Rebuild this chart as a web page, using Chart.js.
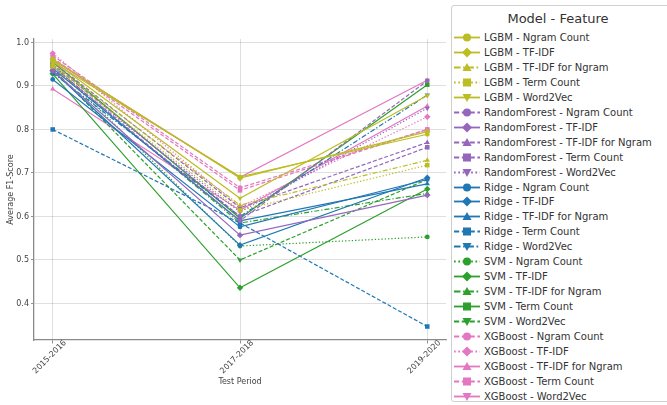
<!DOCTYPE html>
<html>
<head>
<meta charset="utf-8">
<script src="https://cdn.jsdelivr.net/npm/chart.js@4.4.1/dist/chart.umd.min.js"></script>
<style>
  html, body { margin:0; padding:0; background:#fff; overflow:hidden; width:667px; height:405px; }
  #wrap { position:absolute; left:0; top:0; width:450px; height:405px; }
  #legend { position:absolute; left:451px; top:5px; width:240px; height:397px; border:1px solid #d0d0d0; border-radius:3px; box-sizing:border-box; font-family:"DejaVu Sans", sans-serif; color:#333; background:#fff; }
  #legend .title { position:absolute; left:0; top:5px; width:212px; text-align:center; font-size:13px; line-height:16px; }
  #legend .row { position:absolute; left:0; height:15px; line-height:15px; font-size:10px; white-space:nowrap; }
  #legend .row svg { position:absolute; left:1px; top:1px; }
  #legend .row span { position:absolute; left:32px; top:0; }
</style>
</head>
<body>
<div id="wrap"><canvas id="c" width="450" height="405"></canvas></div>
<div id="legend"></div>
<script>
// ---- data ----
const periods = ['2015-2016', '2017-2018', '2019-2020'];
const yTicks = [0.4, 0.5, 0.6, 0.7, 0.8, 0.9, 1.0];
const models = ['LGBM', 'RandomForest', 'Ridge', 'SVM', 'XGBoost'];
const features = ['Ngram Count', 'TF-IDF', 'TF-IDF for Ngram', 'Term Count', 'Word2Vec'];

const lgbmNgramCount    = [0.955, 0.691, 0.789];
const lgbmTfidf         = [0.962, 0.688, 0.795];
const lgbmTfidfNgram    = [0.950, 0.626, 0.729];
const lgbmTermCount     = [0.945, 0.614, 0.718];
const lgbmWord2Vec      = [0.958, 0.642, 0.878];

const rfNgramCount      = [0.945, 0.590, 0.912];
const rfTfidf           = [0.935, 0.557, 0.649];
const rfTfidfNgram      = [0.955, 0.620, 0.770];
const rfTermCount       = [0.950, 0.600, 0.759];
const rfWord2Vec        = [0.940, 0.610, 0.849];

const ridgeNgramCount   = [0.915, 0.576, 0.685];
const ridgeTfidf        = [0.935, 0.534, 0.689];
const ridgeTfidfNgram   = [0.940, 0.590, 0.675];
const ridgeTermCount    = [0.800, 0.585, 0.347];
const ridgeWord2Vec     = [0.930, 0.600, 0.879];

const svmNgramCount     = [0.950, 0.532, 0.553];
const svmTfidf          = [0.928, 0.436, 0.663];
const svmTfidfNgram     = [0.945, 0.585, 0.653];
const svmTermCount      = [0.955, 0.596, 0.903];
const svmWord2Vec       = [0.940, 0.500, 0.685];

const xgbNgramCount     = [0.970, 0.666, 0.800];
const xgbTfidf          = [0.975, 0.622, 0.829];
const xgbTfidfNgram     = [0.893, 0.614, 0.854];
const xgbTermCount      = [0.965, 0.660, 0.800];
const xgbWord2Vec       = [0.960, 0.690, 0.913];

const seriesValues = [
  [lgbmNgramCount, lgbmTfidf, lgbmTfidfNgram, lgbmTermCount, lgbmWord2Vec],
  [rfNgramCount, rfTfidf, rfTfidfNgram, rfTermCount, rfWord2Vec],
  [ridgeNgramCount, ridgeTfidf, ridgeTfidfNgram, ridgeTermCount, ridgeWord2Vec],
  [svmNgramCount, svmTfidf, svmTfidfNgram, svmTermCount, svmWord2Vec],
  [xgbNgramCount, xgbTfidf, xgbTfidfNgram, xgbTermCount, xgbWord2Vec]
];

// ---- styles ----
const modelColors = ['#bcbd22', '#9467bd', '#1f77b4', '#2ca02c', '#e377c2'];
const markers = ['circle', 'diamond', 'triangle', 'square', 'tridown'];
const lineStyles = [
  ['solid', 'solid', 'dashdot', 'dotted', 'solid'],
  ['dashed', 'solid', 'dashed', 'dashed', 'dotted'],
  ['solid', 'solid', 'solid', 'dashed', 'dashdot'],
  ['dotted', 'solid', 'dashdot', 'solid', 'dashed'],
  ['dashed', 'dotted', 'solid', 'dashed', 'solid']
];
const dashMap = { solid: [], dashed: [4, 2], dashdot: [5, 2, 1.3, 2], dotted: [1.3, 2] };
const pointStyleMap = { circle: 'circle', diamond: 'rectRot', triangle: 'triangle', square: 'rect', tridown: 'triangle' };
const pointRadiusMap = { circle: 2.4, diamond: 3.2, triangle: 3, square: 3.2, tridown: 3 };

const datasets = [];
models.forEach((m, mi) => {
  features.forEach((f, fi) => {
    const mk = markers[fi];
    datasets.push({
      label: m + ' - ' + f,
      data: seriesValues[mi][fi].map((v, i) => ({ x: i, y: v })),
      borderColor: modelColors[mi],
      backgroundColor: modelColors[mi],
      borderWidth: 1.2,
      borderDash: dashMap[lineStyles[mi][fi]],
      pointStyle: pointStyleMap[mk],
      pointRotation: mk === 'tridown' ? 180 : 0,
      pointRadius: pointRadiusMap[mk],
      pointBorderWidth: 0,
      tension: 0
    });
  });
});

const FONT = '"DejaVu Sans", sans-serif';

const xLabelPlugin = {
  id: 'xLabels',
  afterDraw(chart) {
    const ctx = chart.ctx;
    const xs = chart.scales.x;
    const base = chart.chartArea.bottom;
    ctx.save();
    ctx.fillStyle = '#444';
    ctx.font = '8px ' + FONT;
    ctx.textAlign = 'center';
    ctx.textBaseline = 'middle';
    periods.forEach((p, i) => {
      const x = xs.getPixelForValue(i);
      ctx.save();
      ctx.translate(x - 3, base + 17);
      ctx.rotate(-Math.PI / 4);
      ctx.fillText(p, 0, 0);
      ctx.restore();
    });
    ctx.restore();
  }
};

new Chart(document.getElementById('c'), {
  type: 'line',
  data: { datasets },
  plugins: [xLabelPlugin],
  options: {
    responsive: false,
    animation: false,
    devicePixelRatio: 1,
    layout: { padding: { left: 0, right: 3, top: 39, bottom: 0 } },
    plugins: { legend: { display: false }, tooltip: { enabled: false } },
    scales: {
      x: {
        type: 'linear',
        min: -0.1, max: 2.1,
        afterBuildTicks(s) { s.ticks = periods.map((p, i) => ({ value: i })); },
        afterFit(s) { s.height = 65; },
        ticks: { display: false },
        grid: { color: 'rgba(0,0,0,0.16)', borderDash: [1.2, 1.8], lineWidth: 0.8,
                tickColor: '#777', tickLength: 3.5, tickWidth: 0.8, tickBorderDash: [] },
        border: { display: true, color: '#8a8a8a', width: 1.3 },
        title: { display: true, text: 'Test Period', color: '#444', font: { family: FONT, size: 8 }, padding: { top: 0, bottom: 18 } }
      },
      y: {
        type: 'linear',
        min: 0.316, max: 1.008,
        afterBuildTicks(s) { s.ticks = yTicks.map(v => ({ value: v })); },
        afterFit(s) { s.width = 34; },
        ticks: { color: '#444', font: { family: FONT, size: 8 }, padding: 2, callback: v => Number(v).toFixed(1) },
        grid: { color: 'rgba(0,0,0,0.16)', borderDash: [1.2, 1.8], lineWidth: 0.8,
                tickColor: '#777', tickLength: 3, tickWidth: 0.8, tickBorderDash: [] },
        border: { display: true, color: '#8a8a8a', width: 1.3 },
        title: { display: true, text: 'Average F1-Score', color: '#444', font: { family: FONT, size: 8 }, padding: { top: 6, bottom: 0 } }
      }
    }
  }
});

// ---- HTML legend ----
function markerSvg(mk, color) {
  const cx = 14, cy = 6.5;
  switch (mk) {
    case 'circle': return `<circle cx="${cx}" cy="${cy}" r="4" fill="${color}"/>`;
    case 'diamond': return `<polygon points="${cx},${cy-5} ${cx+5},${cy} ${cx},${cy+5} ${cx-5},${cy}" fill="${color}"/>`;
    case 'triangle': return `<polygon points="${cx},${cy-4.5} ${cx+4.5},${cy+3.5} ${cx-4.5},${cy+3.5}" fill="${color}"/>`;
    case 'square': return `<rect x="${cx-4}" y="${cy-4}" width="8" height="8" fill="${color}"/>`;
    case 'tridown': return `<polygon points="${cx},${cy+4.5} ${cx+4.5},${cy-3.5} ${cx-4.5},${cy-3.5}" fill="${color}"/>`;
  }
}
const legendEl = document.getElementById('legend');
let html = '<div class="title">Model - Feature</div>';
let k = 0;
models.forEach((m, mi) => {
  features.forEach((f, fi) => {
    const color = modelColors[mi];
    const dash = dashMap[lineStyles[mi][fi]].map(d => d * 1.3).join(' ');
    const top = 24 + k * 14.95;
    html += `<div class="row" style="top:${top}px"><svg width="30" height="13">` +
      `<line x1="1" y1="6.5" x2="27" y2="6.5" stroke="${color}" stroke-width="1.8" ${dash ? `stroke-dasharray="${dash}"` : ''}/>` +
      markerSvg(markers[fi], color) + `</svg><span>${m} - ${f}</span></div>`;
    k++;
  });
});
legendEl.innerHTML = html;
</script>
</body>
</html>
